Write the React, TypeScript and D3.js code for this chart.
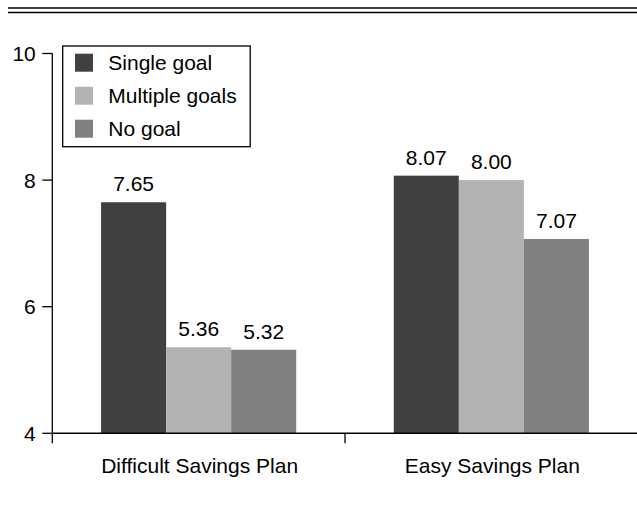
import React from "react";
import * as d3 from "d3";

const categories = ["Difficult Savings Plan", "Easy Savings Plan"];
const seriesNames = ["Single goal", "Multiple goals", "No goal"];
const singleGoal = [7.65, 8.07];
const multipleGoals = [5.36, 8.0];
const noGoal = [5.32, 7.07];
const yTicks = [4, 6, 8, 10];

const seriesValues = [singleGoal, multipleGoals, noGoal];
const colors = ["#404040", "#b3b3b3", "#808080"];

const W = 637;
const H = 508;
const FONT = "'Liberation Sans', Arial, Helvetica, sans-serif";

const App = () => {
  const x0 = d3.scaleBand<string>().domain(categories).range([52.3, 637.7]).padding(0);
  const x1 = d3
    .scaleBand<string>()
    .domain(seriesNames)
    .range([0, x0.bandwidth()])
    .paddingInner(0)
    .paddingOuter(0.75);
  const y = d3.scaleLinear().domain([4, 10]).range([433.3, 53.5]);
  const fmt = d3.format(".2f");
  const color = d3.scaleOrdinal<string, string>().domain(seriesNames).range(colors);

  const axisX = x0.range()[0];
  const baseY = y(4);

  // boundary ticks on the category axis
  const boundaries = categories.map((c) => (x0(c) ?? 0) + x0.bandwidth());

  return (
    <svg
      width={W}
      height={H}
      style={{ position: "absolute", left: 0, top: 0, background: "#fff" }}
      fontFamily={FONT}
    >
      {/* double rule at top */}
      <line x1={8} x2={W} y1={8} y2={8} stroke="#000" strokeWidth={1.6} />
      <line x1={8} x2={W} y1={12.5} y2={12.5} stroke="#000" strokeWidth={1.3} />

      {/* bars */}
      {categories.map((cat, ci) => (
        <g key={cat} transform={`translate(${x0(cat)},0)`}>
          {seriesNames.map((s, si) => {
            const v = seriesValues[si][ci];
            const bx = x1(s) ?? 0;
            return (
              <g key={s}>
                <rect
                  x={bx}
                  y={y(v)}
                  width={x1.bandwidth()}
                  height={baseY - y(v)}
                  fill={color(s)}
                />
                <text
                  x={bx + x1.bandwidth() / 2}
                  y={y(v) - 11}
                  textAnchor="middle"
                  fontSize={21}
                  fill="#000"
                >
                  {fmt(v)}
                </text>
              </g>
            );
          })}
        </g>
      ))}

      {/* y axis */}
      <line x1={axisX} x2={axisX} y1={y(10)} y2={baseY + 10} stroke="#000" strokeWidth={1.3} />
      {yTicks.map((t) => (
        <g key={t}>
          <line x1={axisX - 10} x2={axisX} y1={y(t)} y2={y(t)} stroke="#000" strokeWidth={1.3} />
          <text x={axisX - 16.5} y={y(t) + 7.5} textAnchor="end" fontSize={21} fill="#000">
            {t}
          </text>
        </g>
      ))}

      {/* x axis */}
      <line x1={axisX} x2={W} y1={baseY} y2={baseY} stroke="#000" strokeWidth={1.6} />
      {boundaries.map((bx, i) => (
        <line key={i} x1={bx} x2={bx} y1={baseY} y2={baseY + 10} stroke="#000" strokeWidth={1.3} />
      ))}
      {categories.map((cat) => (
        <text
          key={cat}
          x={(x0(cat) ?? 0) + x0.bandwidth() / 2 + 1}
          y={473}
          textAnchor="middle"
          fontSize={21}
          fill="#000"
        >
          {cat}
        </text>
      ))}

      {/* legend */}
      <rect x={62.7} y={46} width={187.5} height={100.7} fill="#fff" stroke="#000" strokeWidth={1.3} />
      {seriesNames.map((s, i) => {
        const cy = 62.7 + i * 33;
        return (
          <g key={s}>
            <rect x={75} y={cy - 9} width={18} height={18} fill={color(s)} />
            <text x={108.3} y={cy + 7.5} fontSize={21} fill="#000">
              {s}
            </text>
          </g>
        );
      })}
    </svg>
  );
};

export default App;
